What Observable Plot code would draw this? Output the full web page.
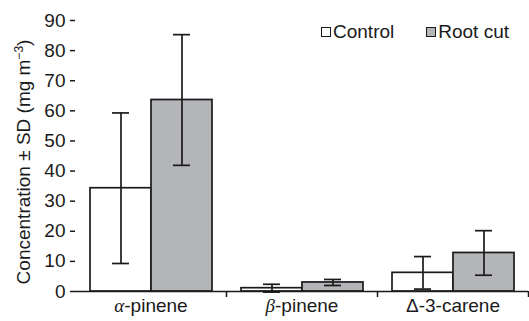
<!DOCTYPE html>
<html><head><meta charset="utf-8">
<script src="https://cdn.jsdelivr.net/npm/d3@7"></script>
<script src="https://cdn.jsdelivr.net/npm/@observablehq/plot@0.6"></script>
<style>
body{margin:0;background:#fff;}
#wrap{position:relative;width:529px;height:321px;font-family:"Liberation Sans",Arial,sans-serif;color:#1a1a1a;}
#legend{position:absolute;left:321px;top:22px;font-size:19px;display:flex;gap:32px;line-height:20px;}
#legend .item{display:flex;align-items:center;}
#legend .sw{width:10px;height:10px;border:1.5px solid #1a1a1a;box-sizing:border-box;margin-right:2px;}
</style></head><body><div id="wrap"><div id="legend"></div></div>
<script>
const compounds = ["α-pinene", "β-pinene", "Δ-3-carene"];
const treatments = ["Control", "Root cut"];
const controlMean = [34.3, 1.1, 6.2];
const controlSD = [25.0, 1.3, 5.4];
const rootCutMean = [63.6, 3.0, 12.8];
const rootCutSD = [21.7, 1.0, 7.4];
const fills = ["#ffffff", "#b4b5b9"];
const yTicks = [0, 10, 20, 30, 40, 50, 60, 70, 80, 90];
const yLabel = "Concentration ± SD (mg m−3)";

const table = [];
compounds.forEach((c, i) => {
  table.push({compound: c, treatment: treatments[0], mean: controlMean[i], sd: controlSD[i]});
  table.push({compound: c, treatment: treatments[1], mean: rootCutMean[i], sd: rootCutSD[i]});
});

const legend = document.getElementById("legend");
treatments.forEach((t, i) => {
  const it = document.createElement("div"); it.className = "item";
  const sw = document.createElement("div"); sw.className = "sw"; sw.style.background = fills[i];
  const tx = document.createElement("span"); tx.textContent = t;
  it.append(sw, tx); legend.append(it);
});

const W = 529, H = 321, mL = 75, mR = 1;
const facetW = (W - mL - mR) / compounds.length;
const ink = "#1a1a1a";

const chart = Plot.plot({
  width: W, height: H, marginLeft: mL, marginRight: mR, marginTop: 20, marginBottom: 30,
  style: {fontFamily: "Liberation Sans, Arial, sans-serif", fontSize: "19px", color: ink, background: "white"},
  fx: {domain: compounds, padding: 0, label: null},
  x: {domain: treatments, paddingInner: 0, paddingOuter: 0.23, axis: null},
  y: {domain: [0, 90]},
  color: {domain: treatments, range: fills},
  marks: [
    Plot.barY(table, {fx: "compound", x: "treatment", y: "mean", fill: "treatment", stroke: ink, strokeWidth: 1.7}),
    Plot.ruleX(table, {fx: "compound", x: "treatment", y1: d => d.mean - d.sd, y2: d => d.mean + d.sd, stroke: ink, strokeWidth: 1.7}),
    Plot.tickY(table, {fx: "compound", x: "treatment", y: d => d.mean - d.sd, insetLeft: 22, insetRight: 22, stroke: ink, strokeWidth: 1.7}),
    Plot.tickY(table, {fx: "compound", x: "treatment", y: d => d.mean + d.sd, insetLeft: 22, insetRight: 22, stroke: ink, strokeWidth: 1.7}),
    Plot.ruleY([0], {stroke: ink, strokeWidth: 1.7}),
    Plot.axisY({ticks: yTicks, tickSize: 5, tickPadding: 5, line: true, strokeWidth: 1.5,
      label: yLabel, labelAnchor: "center", labelOffset: 59, labelArrow: "none"}),
    Plot.axisFx({anchor: "bottom", tickSize: 0, tickPadding: 7, label: null}),
    Plot.axisFx({anchor: "bottom", text: null, tickSize: 6, dx: facetW / 2, strokeWidth: 1.5, label: null})
  ]
});
document.getElementById("wrap").prepend(chart);

// rich text: italic Greek letters on category labels
d3.select(chart).selectAll('[aria-label="fx-axis tick label"] text').each(function() {
  const s = this.textContent;
  const first = s[0], rest = s.slice(1);
  const t = d3.select(this); t.text(null);
  if (first === "α" || first === "β") {
    t.append("tspan").attr("font-style", "italic").attr("font-family", "Liberation Serif, serif").text(first);
  } else {
    t.append("tspan").text(first);
  }
  t.append("tspan").text(rest);
});
// superscript in y label
d3.select(chart).selectAll('[aria-label="y-axis label"] text').each(function() {
  const s = this.textContent;
  const m = s.match(/^(.*m)(−3)(\))$/);
  if (!m) return;
  const t = d3.select(this); t.text(null);
  t.append("tspan").attr("dx", "-6").text(m[1]);
  t.append("tspan").attr("font-size", "12px").attr("dy", "-7").text(m[2]);
  t.append("tspan").attr("dy", "7").text(m[3]);
});
</script>
</body></html>
